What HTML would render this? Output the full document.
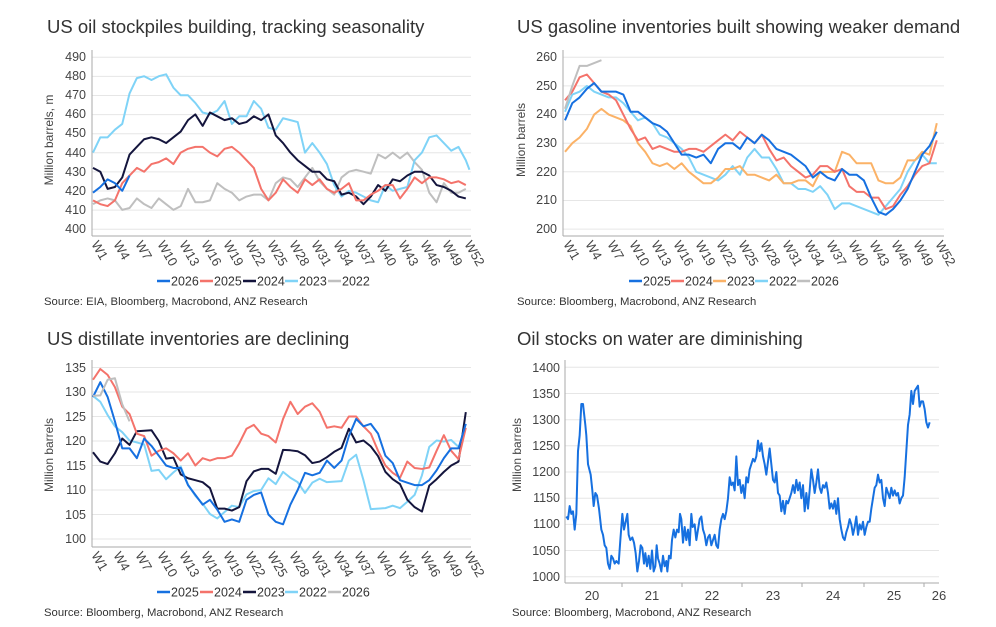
<!DOCTYPE html>
<html><head><meta charset="utf-8"><style>
html,body{margin:0;padding:0;background:#fff;width:996px;height:627px;overflow:hidden}
svg{display:block;font-family:"Liberation Sans",Arial,sans-serif}
.t{font-size:18.5px;fill:#333}
.s{font-size:11.3px;fill:#333}
.y{font-size:12.5px;fill:#444;text-anchor:end}
.x{font-size:13px;fill:#444}
.lg{font-size:12.5px;fill:#333}
.g{stroke:#e6e6e6;stroke-width:1}
.ax{stroke:#aaa;stroke-width:1}
polyline{fill:none;stroke-width:2;stroke-linejoin:round;vector-effect:non-scaling-stroke}
</style></head><body>
<svg width="996" height="627" viewBox="0 0 996 627">
<text class="t" x="47" y="33">US oil stockpiles building, tracking seasonality</text>
<text class="t" x="517" y="33">US gasoline inventories built showing weaker demand</text>
<text class="t" x="47" y="345">US distillate inventories are declining</text>
<text class="t" x="517" y="345">Oil stocks on water are diminishing</text>
<text class="s" x="44" y="305">Source: EIA, Bloomberg, Macrobond, ANZ Research</text>
<text class="s" x="517" y="305">Source: Bloomberg, Macrobond, ANZ Research</text>
<text class="s" x="44" y="616">Source: Bloomberg, Macrobond, ANZ Research</text>
<text class="s" x="512" y="616">Source:  Bloomberg, Macrobond, ANZ Research</text>

<!-- PANEL 1 -->
<g>
<line class="g" x1="92" x2="471" y1="57.3" y2="57.3"/><line class="g" x1="92" x2="471" y1="76.4" y2="76.4"/><line class="g" x1="92" x2="471" y1="95.5" y2="95.5"/><line class="g" x1="92" x2="471" y1="114.6" y2="114.6"/><line class="g" x1="92" x2="471" y1="133.7" y2="133.7"/><line class="g" x1="92" x2="471" y1="152.8" y2="152.8"/><line class="g" x1="92" x2="471" y1="171.9" y2="171.9"/><line class="g" x1="92" x2="471" y1="191" y2="191"/><line class="g" x1="92" x2="471" y1="210.1" y2="210.1"/><line class="g" x1="92" x2="471" y1="229.2" y2="229.2"/>
<line class="ax" x1="92" x2="92" y1="50" y2="236"/><line class="ax" x1="92" x2="471" y1="236" y2="236"/>
<text class="y" x="86" y="61">490</text><text class="y" x="86" y="80">480</text><text class="y" x="86" y="99">470</text><text class="y" x="86" y="118">460</text><text class="y" x="86" y="137">450</text><text class="y" x="86" y="157">440</text><text class="y" x="86" y="176">430</text><text class="y" x="86" y="195">420</text><text class="y" x="86" y="214">410</text><text class="y" x="86" y="233">400</text>
<text transform="translate(53,140) rotate(-90)" text-anchor="middle" style="font-size:12px;fill:#444">Million barrels, m</text>
<g transform="matrix(7.31 0 0 -1.91 85.69 993)">
<polyline stroke="#bfbfbf" points="1,413 2,415 3,416 4,415 5,410 6,411 7,416 8,413 9,411 10,416 11,413 12,410 13,412 14,421 15,414 16,414 17,415 18,424 19,421 20,419 21,415 22,417 23,418 24,418 25,415 26,424 27,427 28,426 29,422 30,427 31,432 32,425 33,421 34,418 35,427 36,430 37,431 38,430 39,429 40,439 41,437 42,440 43,437 44,440 45,435 46,431 47,419 48,414 49,424 50,419 51,419 52,421"/>
<polyline stroke="#7fd3f7" points="1,440 2,448 3,448 4,452 5,455 6,471 7,479 8,480 9,478 10,480 11,481 12,474 13,470 14,470 15,466 16,461 17,460 18,462 19,467 20,455 21,459 22,459 23,467 24,463 25,453 26,452 27,458 28,457 29,456 30,440 31,445 32,440 33,434 34,423 35,417 36,420 37,419 38,417 39,415 40,414 41,423 42,420 43,421 44,422 45,436 46,440 47,448 48,449 49,445 50,441 51,443 52,436 52.5,431"/>
<polyline stroke="#14153d" points="1,432 2,430 3,421 4,422 5,427 6,439 7,443 8,447 9,448 10,447 11,445 12,448 13,451 14,457 15,460 16,454 17,461 18,459 19,457 20,458 21,455 22,456 23,459 24,457 25,460 26,449 27,445 28,440 29,436 30,433 31,430 32,430 33,426 34,425 35,418 36,419 37,417 38,413 39,417 40,423 41,420 42,426 43,425 44,428 45,430 46,430 47,428 48,423 49,422 50,420 51,417 52,416"/>
<polyline stroke="#f4736b" points="1,415 2,413 3,412 4,415 5,424 6,428 7,432 8,430 9,434 10,435 11,437 12,434 13,440 14,442 15,443 16,443 17,440 18,438 19,442 20,443 21,440 22,436 23,432 24,421 25,415 26,419 27,426 28,422 29,419 30,426 31,423 32,426 33,421 34,419 35,421 36,424 37,415 38,415 39,418 40,420 41,423 42,423 43,416 44,421 45,427 46,424 47,427 48,427 49,426 50,424 51,425 52,423"/>
<polyline stroke="#1670e0" points="1,419 2,422 3,426 4,424 5,420 6,428"/>
</g>
<g class="x">
<text transform="translate(91,244) rotate(60)">W1</text><text transform="translate(113,244) rotate(60)">W4</text><text transform="translate(135,244) rotate(60)">W7</text><text transform="translate(157,244) rotate(60)">W10</text><text transform="translate(179,244) rotate(60)">W13</text><text transform="translate(201,244) rotate(60)">W16</text><text transform="translate(223,244) rotate(60)">W19</text><text transform="translate(245,244) rotate(60)">W22</text><text transform="translate(267,244) rotate(60)">W25</text><text transform="translate(289,244) rotate(60)">W28</text><text transform="translate(311,244) rotate(60)">W31</text><text transform="translate(333,244) rotate(60)">W34</text><text transform="translate(354,244) rotate(60)">W37</text><text transform="translate(376,244) rotate(60)">W40</text><text transform="translate(398,244) rotate(60)">W43</text><text transform="translate(420,244) rotate(60)">W46</text><text transform="translate(442,244) rotate(60)">W49</text><text transform="translate(464,244) rotate(60)">W52</text>
</g>
<g class="lg">
<line x1="157" x2="170" y1="281" y2="281" stroke="#1670e0" stroke-width="2.5"/><text x="171" y="285.5">2026</text>
<line x1="200" x2="213" y1="281" y2="281" stroke="#f4736b" stroke-width="2.5"/><text x="214" y="285.5">2025</text>
<line x1="243" x2="256" y1="281" y2="281" stroke="#14153d" stroke-width="2.5"/><text x="257" y="285.5">2024</text>
<line x1="285" x2="298" y1="281" y2="281" stroke="#7fd3f7" stroke-width="2.5"/><text x="299" y="285.5">2023</text>
<line x1="328" x2="341" y1="281" y2="281" stroke="#bfbfbf" stroke-width="2.5"/><text x="342" y="285.5">2022</text>
</g>
</g>

<!-- PANEL 2 -->
<g>
<line class="g" x1="563" x2="944" y1="57.3" y2="57.3"/><line class="g" x1="563" x2="944" y1="85.9" y2="85.9"/><line class="g" x1="563" x2="944" y1="114.6" y2="114.6"/><line class="g" x1="563" x2="944" y1="143.2" y2="143.2"/><line class="g" x1="563" x2="944" y1="171.8" y2="171.8"/><line class="g" x1="563" x2="944" y1="200.5" y2="200.5"/><line class="g" x1="563" x2="944" y1="229.1" y2="229.1"/>
<line class="ax" x1="563" x2="563" y1="50" y2="236"/><line class="ax" x1="563" x2="944" y1="236" y2="236"/>
<text class="y" x="557" y="61">260</text><text class="y" x="557" y="90">250</text><text class="y" x="557" y="118">240</text><text class="y" x="557" y="147">230</text><text class="y" x="557" y="176">220</text><text class="y" x="557" y="204">210</text><text class="y" x="557" y="233">200</text>
<text transform="translate(525,140) rotate(-90)" text-anchor="middle" style="font-size:12px;fill:#444">Million barrels</text>
<g transform="matrix(7.29 0 0 -2.863 557.71 801.7)">
<polyline stroke="#7fd3f7" points="1,241 2,247 3,248 4,250 5,248 6,247 7,246 8,246 9,244 10,241 11,238 12,239 13,237 14,233 15,232 16,230 17,228 18,225 19,220 20,219 21,218 22,217 23,219 24,222 25,219 26,225 27,228 28,225 29,225 30,221 31,216 32,216 33,214 34,214 35,213 36,215 37,212 38,207 39,209 40,209 41,208 42,207 43,206 44,205 45,208 46,211 47,214 48,220 49,224 50,226 51,223 52,223"/>
<polyline stroke="#fbb267" points="1,227 2,230 3,232 4,235 5,240 6,242 7,240 8,239 9,238 10,236 11,230 12,227 13,223 14,222 15,223 16,221 17,223 18,220 19,218 20,216 21,216 22,218 23,221 24,221 25,222 26,219 27,219 28,218 29,217 30,219 31,216 32,216 33,217 34,217 35,215 36,220 37,220 38,220 39,227 40,226 41,223 42,223 43,223 44,217 45,216 46,216 47,218 48,224 49,224 50,227 51,226 52,237"/>
<polyline stroke="#f4736b" points="1,245 2,248 3,253 4,254 5,251 6,248 7,247 8,245 9,240 10,235 11,231 12,232 13,228 14,229 15,228 16,227 17,227 18,228 19,228 20,227 21,229 22,231 23,233 24,231 25,234 26,232 27,230 28,233 29,228 30,224 31,225 32,222 33,220 34,218 35,219 36,222 37,222 38,220 39,221 40,215 41,213 42,213 43,211 44,211 45,207 46,208 47,212 48,215 49,219 50,222 51,223 52,231"/>
<polyline stroke="#1670e0" points="1,238 2,244 3,246 4,249 5,251 6,248 7,248 8,248 9,247 10,241 11,241 12,239 13,237 14,236 15,234 16,230 17,226 18,226 19,225 20,226 21,223 22,228 23,230 24,230 25,228 26,232 27,230 28,233 29,231 30,228 31,227 32,226 33,224 34,222 35,218 36,220 37,218 38,217 39,221 40,219 41,219 42,217 43,211 44,206 45,205 46,207 47,210 48,214 49,220 50,226 51,229 52,234"/>
<polyline stroke="#bfbfbf" points="1,242 2,250 3,257 4,257 5,258 6,259"/>
</g>
<g class="x">
<text transform="translate(563,244) rotate(60)">W1</text><text transform="translate(585,244) rotate(60)">W4</text><text transform="translate(607,244) rotate(60)">W7</text><text transform="translate(629,244) rotate(60)">W10</text><text transform="translate(651,244) rotate(60)">W13</text><text transform="translate(673,244) rotate(60)">W16</text><text transform="translate(695,244) rotate(60)">W19</text><text transform="translate(716,244) rotate(60)">W22</text><text transform="translate(738,244) rotate(60)">W25</text><text transform="translate(760,244) rotate(60)">W28</text><text transform="translate(782,244) rotate(60)">W31</text><text transform="translate(804,244) rotate(60)">W34</text><text transform="translate(826,244) rotate(60)">W37</text><text transform="translate(848,244) rotate(60)">W40</text><text transform="translate(869,244) rotate(60)">W43</text><text transform="translate(891,244) rotate(60)">W46</text><text transform="translate(913,244) rotate(60)">W49</text><text transform="translate(935,244) rotate(60)">W52</text>
</g>
<g class="lg">
<line x1="629" x2="642" y1="281" y2="281" stroke="#1670e0" stroke-width="2.5"/><text x="643" y="285.5">2025</text>
<line x1="671" x2="684" y1="281" y2="281" stroke="#f4736b" stroke-width="2.5"/><text x="685" y="285.5">2024</text>
<line x1="713" x2="726" y1="281" y2="281" stroke="#fbb267" stroke-width="2.5"/><text x="727" y="285.5">2023</text>
<line x1="755" x2="768" y1="281" y2="281" stroke="#7fd3f7" stroke-width="2.5"/><text x="769" y="285.5">2022</text>
<line x1="797" x2="810" y1="281" y2="281" stroke="#bfbfbf" stroke-width="2.5"/><text x="811" y="285.5">2026</text>
</g>
</g>

<!-- PANEL 3 -->
<g>
<line class="g" x1="92" x2="471" y1="367.5" y2="367.5"/><line class="g" x1="92" x2="471" y1="392" y2="392"/><line class="g" x1="92" x2="471" y1="416.5" y2="416.5"/><line class="g" x1="92" x2="471" y1="441" y2="441"/><line class="g" x1="92" x2="471" y1="465.5" y2="465.5"/><line class="g" x1="92" x2="471" y1="490" y2="490"/><line class="g" x1="92" x2="471" y1="514.5" y2="514.5"/><line class="g" x1="92" x2="471" y1="539" y2="539"/>
<line class="ax" x1="92" x2="92" y1="360" y2="547"/><line class="ax" x1="92" x2="471" y1="547" y2="547"/>
<text class="y" x="86" y="372">135</text><text class="y" x="86" y="396">130</text><text class="y" x="86" y="421">125</text><text class="y" x="86" y="445">120</text><text class="y" x="86" y="470">115</text><text class="y" x="86" y="494">110</text><text class="y" x="86" y="519">105</text><text class="y" x="86" y="543">100</text>
<text transform="translate(53,455) rotate(-90)" text-anchor="middle" style="font-size:12px;fill:#444">Million barrels</text>
<g transform="matrix(7.31 0 0 -4.9 85.69 1029)">
<polyline stroke="#7fd3f7" points="1,129.2 2,128 3,125.3 4,123 5,121.8 6,120.1 7,119.7 8,119.3 9,113.9 10,114.1 11,112.2 12,113.6 13,114.8 14,111.1 15,108.8 16,107.2 17,105.1 18,104.2 19,105.5 20,106.8 21,106.5 22,109.1 23,109.8 24,110 25,112.4 26,111.2 27,113.7 28,112.5 29,111.6 30,109.4 31,111.5 32,112.3 33,111.6 34,111.7 35,111.8 36,116 37,117.2 38,112 39,106.1 40,106.2 41,106.3 42,106.8 43,106.3 44,107.6 45,109 46,113 47,118.8 48,120.1 49,119.9 50,120.2 51,118.8"/>
<polyline stroke="#14153d" points="1,117.7 2,115.8 3,115.3 4,117.5 5,120.5 6,119.2 7,122 8,122.1 9,122.2 10,120 11,116.4 12,116.6 13,113.2 14,112.4 15,112 16,111.6 17,110.4 18,106.2 19,106.2 20,105.8 21,106.5 22,111.8 23,113.8 24,114.3 25,114.3 26,113.3 27,118.2 28,118.1 29,117.9 30,117.1 31,115.5 32,115.8 33,116.7 34,117.8 35,118.6 36,122.5 37,119.7 38,120.1 39,118.9 40,116.9 41,113.7 42,112.2 43,111.2 44,108 45,106.5 46,105.6 47,110.9 48,112.2 49,113.7 50,115 51,115.8 52,125.9"/>
<polyline stroke="#f4736b" points="1,132.5 2,134.7 3,133.5 4,131 5,127 6,125.5 7,121.5 8,121 9,117 10,118 11,118.5 12,117.5 13,116 14,117.5 15,115 16,116.5 17,116 18,116.5 19,116.5 20,117 21,119.5 22,122.5 23,123.3 24,121.5 25,121 26,119.7 27,124.5 28,128 29,125.5 30,127 31,127.7 32,126 33,122.7 34,123 35,122.7 36,125 37,125 38,123 39,121.5 40,118 41,115 42,113.5 43,112.5 44,115.8 45,114.5 46,114.3 47,114.6 48,118 49,121.2 50,118 51,116.3 52,122.7"/>
<polyline stroke="#1670e0" points="1,129 2,132 3,129 4,124 5,118.5 6,118.5 7,116.5 8,120.5 9,119 10,117 11,115 12,114.5 13,114.5 14,111 15,109 16,107 17,108 18,106 19,103.5 20,104 21,103.5 22,108 23,109 24,109.5 25,105 26,103.5 27,103 28,107 29,110 30,113.5 31,113 32,113.5 33,116 34,114.5 35,116 36,121 37,124.5 38,123 39,123.5 40,121.5 41,117 42,115.5 43,112 44,111.5 45,111 46,111 47,112 48,114 49,116.5 50,118.5 51,118.5 52,123.5"/>
<polyline stroke="#bfbfbf" points="1,129.2 2,129.3 3,132.5 4,132.8 5,127.5 6,124"/>
</g>
<g class="x">
<text transform="translate(91,555) rotate(60)">W1</text><text transform="translate(113,555) rotate(60)">W4</text><text transform="translate(135,555) rotate(60)">W7</text><text transform="translate(157,555) rotate(60)">W10</text><text transform="translate(179,555) rotate(60)">W13</text><text transform="translate(201,555) rotate(60)">W16</text><text transform="translate(223,555) rotate(60)">W19</text><text transform="translate(245,555) rotate(60)">W22</text><text transform="translate(267,555) rotate(60)">W25</text><text transform="translate(289,555) rotate(60)">W28</text><text transform="translate(311,555) rotate(60)">W31</text><text transform="translate(333,555) rotate(60)">W34</text><text transform="translate(354,555) rotate(60)">W37</text><text transform="translate(376,555) rotate(60)">W40</text><text transform="translate(398,555) rotate(60)">W43</text><text transform="translate(420,555) rotate(60)">W46</text><text transform="translate(442,555) rotate(60)">W49</text><text transform="translate(464,555) rotate(60)">W52</text>
</g>
<g class="lg">
<line x1="157" x2="170" y1="592" y2="592" stroke="#1670e0" stroke-width="2.5"/><text x="171" y="596.5">2025</text>
<line x1="200" x2="213" y1="592" y2="592" stroke="#f4736b" stroke-width="2.5"/><text x="214" y="596.5">2024</text>
<line x1="243" x2="256" y1="592" y2="592" stroke="#14153d" stroke-width="2.5"/><text x="257" y="596.5">2023</text>
<line x1="285" x2="298" y1="592" y2="592" stroke="#7fd3f7" stroke-width="2.5"/><text x="299" y="596.5">2022</text>
<line x1="328" x2="341" y1="592" y2="592" stroke="#bfbfbf" stroke-width="2.5"/><text x="342" y="596.5">2026</text>
</g>
</g>

<!-- PANEL 4 -->
<g>
<line class="g" x1="565" x2="939" y1="367.3" y2="367.3"/><line class="g" x1="565" x2="939" y1="393.5" y2="393.5"/><line class="g" x1="565" x2="939" y1="419.7" y2="419.7"/><line class="g" x1="565" x2="939" y1="445.8" y2="445.8"/><line class="g" x1="565" x2="939" y1="472" y2="472"/><line class="g" x1="565" x2="939" y1="498.2" y2="498.2"/><line class="g" x1="565" x2="939" y1="524.4" y2="524.4"/><line class="g" x1="565" x2="939" y1="550.5" y2="550.5"/><line class="g" x1="565" x2="939" y1="576.7" y2="576.7"/>
<line class="ax" x1="565" x2="565" y1="360" y2="583"/><line class="ax" x1="565" x2="939" y1="583" y2="583"/>
<g class="ax"><line x1="622" x2="622" y1="583" y2="587"/><line x1="682" x2="682" y1="583" y2="587"/><line x1="742" x2="742" y1="583" y2="587"/><line x1="802" x2="802" y1="583" y2="587"/><line x1="864" x2="864" y1="583" y2="587"/><line x1="924" x2="924" y1="583" y2="587"/></g>
<text class="y" x="560" y="372">1400</text><text class="y" x="560" y="398">1350</text><text class="y" x="560" y="424">1300</text><text class="y" x="560" y="450">1250</text><text class="y" x="560" y="476">1200</text><text class="y" x="560" y="502">1150</text><text class="y" x="560" y="528">1100</text><text class="y" x="560" y="555">1050</text><text class="y" x="560" y="581">1000</text>
<text transform="translate(521,455) rotate(-90)" text-anchor="middle" style="font-size:12px;fill:#444">Million barrels</text>
<g class="x" text-anchor="middle"><text x="592" y="600">20</text><text x="652" y="600">21</text><text x="712" y="600">22</text><text x="773" y="600">23</text><text x="833" y="600">24</text><text x="894" y="600">25</text><text x="939" y="600">26</text></g>
<g transform="matrix(0.33333 0 0 -0.5233 498 1100)">
<polyline stroke="#1670e0" points="205,1115 210,1110 215,1135 220,1120 225,1125 230,1090 235,1120 240,1240 245,1270 250,1330 255,1330 262,1290 265,1270 270,1215 278,1195 283,1165 287,1135 292,1160 297,1155 303,1130 310,1090 315,1080 320,1060 325,1055 330,1025 335,1015 340,1040 345,1035 350,1025 355,1030 362,1025 367,1070 373,1120 378,1090 383,1105 388,1120 392,1080 397,1070 403,1075 408,1065 413,1045 418,1010 423,1030 428,1060 433,1055 438,1025 442,1045 447,1020 452,1040 457,1015 462,1050 467,1010 472,1020 476,1060 480,1035 485,1025 490,1010 495,1040 500,1020 505,1030 508,1010 513,1040 518,1035 522,1070 527,1090 532,1075 537,1090 542,1085 546,1120 550,1110 555,1065 560,1095 565,1070 570,1090 575,1060 580,1120 584,1095 590,1100 595,1070 600,1090 605,1110 610,1115 615,1090 620,1080 625,1060 630,1075 635,1080 640,1060 645,1070 650,1080 655,1060 660,1055 665,1090 670,1110 675,1120 680,1110 685,1125 690,1150 695,1190 700,1175 705,1180 710,1165 715,1230 720,1175 725,1185 730,1160 735,1175 740,1150 745,1190 750,1180 755,1205 760,1215 765,1225 770,1220 775,1230 780,1260 785,1240 790,1255 795,1230 800,1215 805,1195 810,1220 815,1245 820,1215 825,1185 830,1180 835,1200 840,1160 845,1155 850,1125 855,1145 860,1120 865,1145 870,1140 875,1150 880,1160 885,1175 890,1160 895,1185 900,1165 905,1180 910,1150 915,1175 920,1125 925,1160 930,1130 935,1165 940,1205 945,1185 950,1160 955,1180 960,1205 965,1170 970,1160 975,1175 980,1170 985,1180 990,1160 995,1130 1000,1140 1005,1130 1010,1145 1015,1120 1020,1150 1025,1110 1030,1090 1035,1075 1040,1070 1045,1085 1050,1095 1055,1110 1060,1100 1065,1080 1070,1095 1075,1115 1080,1080 1085,1100 1090,1090 1095,1105 1100,1080 1105,1095 1110,1105 1115,1105 1120,1130 1125,1150 1130,1170 1135,1175 1140,1195 1145,1180 1150,1185 1155,1150 1160,1135 1165,1170 1170,1160 1175,1150 1180,1170 1185,1155 1190,1165 1195,1155 1200,1160 1205,1140 1210,1150 1215,1155 1220,1190 1225,1240 1230,1290 1235,1310 1240,1355 1245,1330 1250,1355 1255,1360 1260,1365 1265,1325 1270,1335 1275,1335 1280,1320 1285,1295 1290,1285 1295,1295"/>
</g>
</g>
</svg>
</body></html>
